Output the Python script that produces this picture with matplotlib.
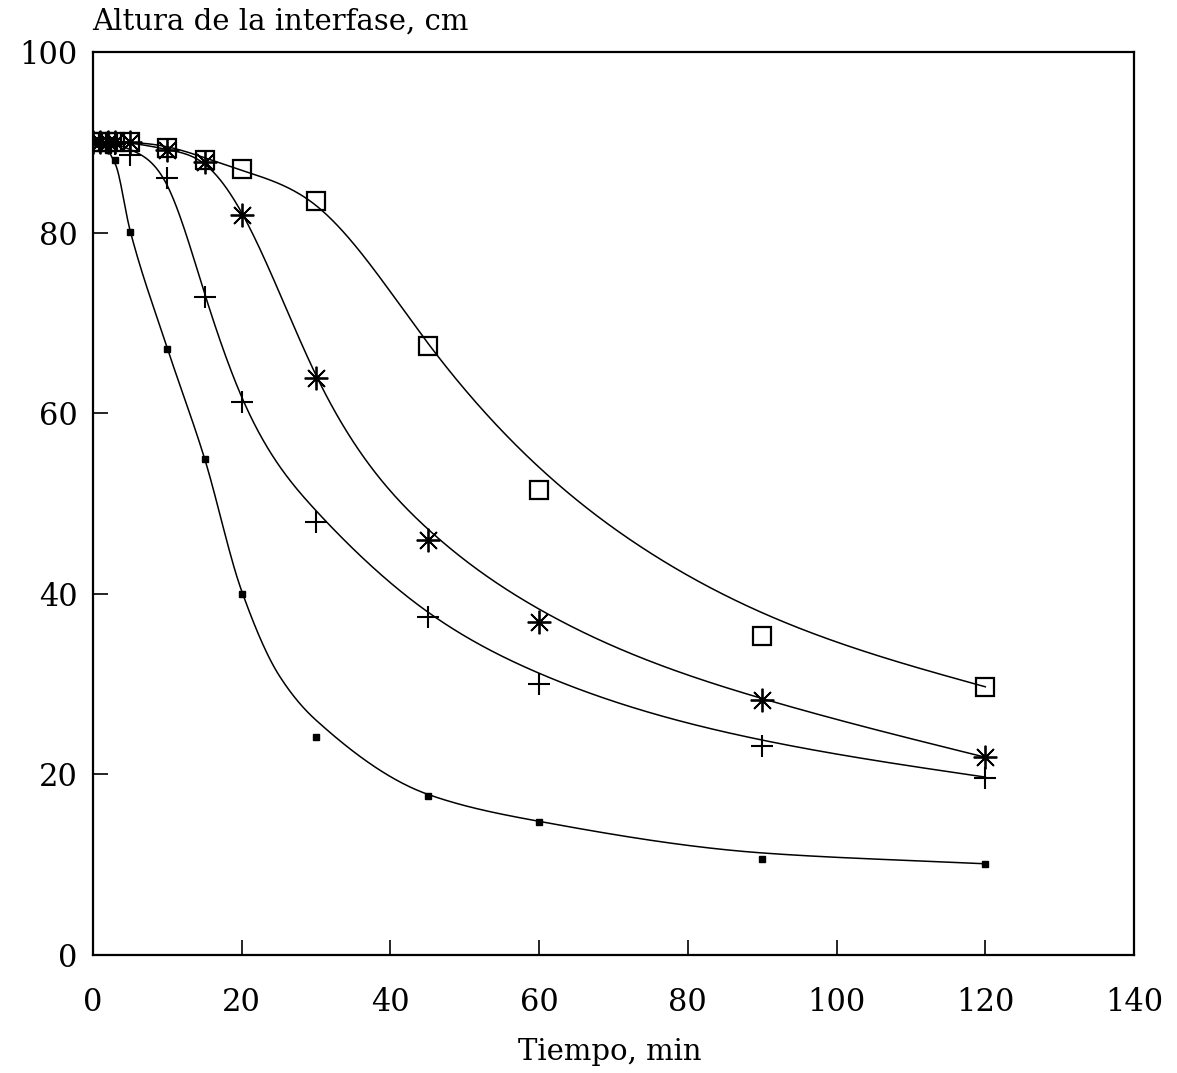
import matplotlib
matplotlib.use("Agg")
import matplotlib.pyplot as plt
import numpy as np

plt.rcParams["font.family"] = "DejaVu Serif"
plt.rcParams["font.size"] = 20

# measured points (time in min, interface height in cm)
t_pts = [0, 1, 2, 3, 5, 10, 15, 20, 30, 45, 60, 90, 120]
h_dot = [90.0, 90.0, 89.2, 88.0, 80.1, 67.1, 54.9, 40.0, 24.1, 17.6, 14.7, 10.6, 10.1]
h_plus = [90.0, 90.0, 90.0, 89.8, 88.6, 86.1, 72.9, 61.2, 48.0, 37.4, 30.0, 23.1, 19.6]
h_star = [90.0, 90.0, 90.0, 90.0, 90.0, 89.1, 87.8, 82.0, 63.9, 46.0, 36.9, 28.2, 21.9]
h_square = [90.0, 90.0, 90.0, 90.0, 90.0, 89.4, 88.0, 87.0, 83.5, 67.4, 51.5, 35.3, 29.7]

# fitted curves (knots)
fit_dot_t = [0, 1, 3, 5, 10, 15, 20, 25, 30, 45, 60, 90, 120]
fit_dot_h = [90.0, 89.9, 87.6, 80.2, 67.2, 55.0, 40.3, 31.0, 26.0, 17.8, 14.8, 11.3, 10.1]
fit_plus_t = [0, 3, 5, 10, 15, 20, 30, 45, 60, 90, 120]
fit_plus_h = [90.0, 89.8, 89.2, 85.2, 73.3, 61.8, 49.2, 38.0, 31.2, 23.8, 19.7]
fit_star_t = [0, 5, 10, 15, 20, 30, 45, 60, 90, 120]
fit_star_h = [90.0, 89.9, 89.2, 87.6, 82.2, 64.2, 47.2, 38.3, 28.4, 21.9]
fit_square_t = [0, 10, 15, 20, 30, 45, 60, 75, 90, 120]
fit_square_h = [90.0, 89.5, 88.3, 86.9, 83.0, 67.8, 54.0, 44.5, 37.9, 29.7]


def pchip(xk, yk, xs):
    # monotone cubic, used where the curve turns sharply
    xk = np.asarray(xk, float)
    yk = np.asarray(yk, float)
    h = np.diff(xk)
    d = np.diff(yk) / h
    m = np.zeros_like(yk)
    for i in range(1, len(xk) - 1):
        if d[i - 1] * d[i] > 0:
            w1 = 2 * h[i] + h[i - 1]
            w2 = h[i] + 2 * h[i - 1]
            m[i] = (w1 + w2) / (w1 / d[i - 1] + w2 / d[i])
    m[0] = d[0]
    m[-1] = d[-1]
    idx = np.clip(np.searchsorted(xk, xs) - 1, 0, len(xk) - 2)
    s = (xs - xk[idx]) / h[idx]
    h00 = 2 * s**3 - 3 * s**2 + 1
    h10 = s**3 - 2 * s**2 + s
    h01 = -2 * s**3 + 3 * s**2
    h11 = s**3 - s**2
    return h00 * yk[idx] + h10 * h[idx] * m[idx] + h01 * yk[idx + 1] + h11 * h[idx] * m[idx + 1]


def spline(xk, yk, xs):
    # natural cubic spline through the knots
    xk = np.asarray(xk, float)
    yk = np.asarray(yk, float)
    n = len(xk)
    h = np.diff(xk)
    A = np.zeros((n, n))
    r = np.zeros(n)
    A[0, 0] = A[-1, -1] = 1.0
    for i in range(1, n - 1):
        A[i, i - 1] = h[i - 1]
        A[i, i] = 2 * (h[i - 1] + h[i])
        A[i, i + 1] = h[i]
        r[i] = 6 * ((yk[i + 1] - yk[i]) / h[i] - (yk[i] - yk[i - 1]) / h[i - 1])
    M = np.linalg.solve(A, r)
    idx = np.clip(np.searchsorted(xk, xs) - 1, 0, n - 2)
    x0, x1 = xk[idx], xk[idx + 1]
    hh = h[idx]
    a = (x1 - xs) / hh
    b = (xs - x0) / hh
    return (a * yk[idx] + b * yk[idx + 1]
            + ((a**3 - a) * M[idx] + (b**3 - b) * M[idx + 1]) * hh**2 / 6)


fig = plt.figure(figsize=(11.77, 10.73), dpi=100)
ax = fig.add_axes([0.079, 0.110, 0.8845, 0.8415])

xs = np.linspace(0, 120, 800)
ax.plot(xs, pchip(fit_dot_t, fit_dot_h, xs), color='black', linewidth=1.1)
for kt, kh in [(fit_plus_t, fit_plus_h), (fit_star_t, fit_star_h),
               (fit_square_t, fit_square_h)]:
    ax.plot(xs, spline(kt, kh, xs), color='black', linewidth=1.1)

ax.plot(t_pts, h_dot, linestyle='none', marker='s', markersize=4,
        color='black')
ax.plot(t_pts, h_plus, linestyle='none', marker='+', markersize=16,
        markeredgewidth=1.5, color='black')
ax.plot(t_pts, h_star, linestyle='none', marker=(8, 2, 0), markersize=17,
        markeredgewidth=1.3, color='black')
ax.plot(t_pts, h_square, linestyle='none', marker='s', markersize=12.5,
        markerfacecolor='none', markeredgewidth=1.6, color='black')

ax.set_xlim(0, 140)
ax.set_ylim(0, 100)
ax.set_xticks(np.arange(0, 141, 20))
ax.set_yticks(np.arange(0, 101, 20))
ax.tick_params(axis='x', direction='in', length=11, width=1.2, pad=23, labelsize=22)
ax.tick_params(axis='y', direction='in', length=11, width=1.2, pad=11, labelsize=22)
for sp in ax.spines.values():
    sp.set_linewidth(1.6)

ax.set_xlabel('Tiempo, min', fontsize=21)
ax.xaxis.set_label_coords(0.4966, -0.092)
fig.text(0.078, 0.9795, 'Altura de la interfase, cm', fontsize=21, ha='left', va='center')

fig.savefig("out.png", dpi=100)
